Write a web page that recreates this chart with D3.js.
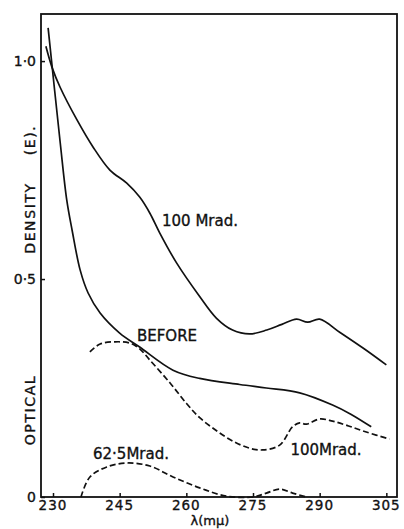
<!DOCTYPE html>
<html>
<head>
<meta charset="utf-8">
<script src="https://cdn.jsdelivr.net/npm/d3@7"></script>
<style>
  body { margin: 0; background: #fff; }
  svg { display: block; }
  text { font-family: "DejaVu Sans", sans-serif; fill: #111; stroke: #111; stroke-width: 0.35; }
</style>
</head>
<body>
<svg width="404" height="529"></svg>
<script>
// wavelengths (m\u03bc) and optical density (E)
var mrad100Lambda = [228.4, 229.8, 231.6, 235.4, 239, 242.8, 246.6, 249.5, 251.8, 254, 257.8, 263, 266.8, 270.4, 274.2, 278.1, 281.5, 284.8, 287.3, 290, 294.5, 300, 305];
var mrad100E      = [1.034, 0.985, 0.94, 0.865, 0.803, 0.75, 0.72, 0.688, 0.651, 0.606, 0.537, 0.46, 0.41, 0.383, 0.374, 0.383, 0.396, 0.408, 0.401, 0.408, 0.378, 0.34, 0.303];

var beforeLambda = [228.9, 231.6, 233.1, 234.3, 236.1, 237.9, 240.6, 245, 249.5, 257, 263, 272, 278, 285.5, 292.9, 297, 301.6];
var beforeE      = [1.076, 0.815, 0.681, 0.612, 0.521, 0.468, 0.422, 0.376, 0.344, 0.291, 0.272, 0.258, 0.25, 0.239, 0.211, 0.19, 0.161];

var dash100Lambda = [238.3, 240.6, 244, 247.3, 249.5, 251.8, 256.3, 260, 263, 266.8, 270.5, 274.2, 277.2, 281, 283.9, 285.5, 287, 290, 292.9, 296.5, 300.5, 305.7];
var dash100E      = [0.333, 0.351, 0.356, 0.353, 0.34, 0.314, 0.262, 0.215, 0.182, 0.152, 0.128, 0.112, 0.108, 0.119, 0.161, 0.17, 0.167, 0.179, 0.174, 0.163, 0.149, 0.133];

var dash62Lambda = [236.3, 238.3, 242.1, 246.6, 251.8, 257, 263, 269, 275, 278, 281, 283.9, 287];
var dash62E      = [0, 0.046, 0.069, 0.078, 0.071, 0.046, 0.021, 0.002, 0, 0.009, 0.018, 0.009, 0];

var xTicks = [230, 245, 260, 275, 290, 305];
var yTicks = [0, 0.5, 1.0];
var yTickLabels = ["0", "0\u00b75", "1\u00b70"];

var svg = d3.select("svg");

var x = d3.scaleLinear().domain([227.3, 307.4]).range([41, 397]);
var y = d3.scaleLinear().domain([0, 1.108]).range([497, 14]);

function pts(lx, ly) {
  return lx.map(function (l, i) { return [l, ly[i]]; });
}

var line = d3.line()
  .x(function (d) { return x(d[0]); })
  .y(function (d) { return y(d[1]); })
  .curve(d3.curveCatmullRom.alpha(0.5));

// frame
svg.append("rect")
  .attr("x", x.range()[0]).attr("y", y.range()[1])
  .attr("width", x.range()[1] - x.range()[0])
  .attr("height", y.range()[0] - y.range()[1])
  .attr("fill", "none").attr("stroke", "#111").attr("stroke-width", 1.8);

// x axis (ticks pointing inwards)
svg.append("g")
  .attr("transform", "translate(0," + y(0) + ")")
  .call(d3.axisTop(x).tickValues(xTicks).tickSize(4).tickFormat(""))
  .call(function (g) { g.select(".domain").remove(); })
  .call(function (g) { g.selectAll("line").attr("stroke", "#111").attr("stroke-width", 1.5); });

svg.append("g").selectAll("text")
  .data(xTicks).enter().append("text")
  .attr("x", function (d) { return x(d); })
  .attr("y", 510)
  .attr("text-anchor", "middle")
  .attr("font-size", 13.5)
  .attr("letter-spacing", 1)
  .text(function (d) { return d; });

// y axis
svg.append("g")
  .attr("transform", "translate(" + x.range()[0] + ",0)")
  .call(d3.axisRight(y).tickValues(yTicks).tickSize(4).tickFormat(""))
  .call(function (g) { g.select(".domain").remove(); })
  .call(function (g) { g.selectAll("line").attr("stroke", "#111").attr("stroke-width", 1.5); });

svg.append("g").selectAll("text")
  .data(yTicks).enter().append("text")
  .attr("x", 36)
  .attr("y", function (d) { return y(d) + 5; })
  .attr("text-anchor", "end")
  .attr("font-size", 14)
  .text(function (d, i) { return yTickLabels[i]; });

// axis titles
var yTitle = [["OPTICAL", 410], ["DENSITY", 218], ["(E).", 140]];
svg.append("g").selectAll("text")
  .data(yTitle).enter().append("text")
  .attr("transform", function (d) { return "translate(35," + d[1] + ") rotate(-90)"; })
  .attr("text-anchor", "middle")
  .attr("font-size", 14)
  .attr("letter-spacing", 1.6)
  .text(function (d) { return d[0]; });

svg.append("text")
  .attr("x", 210).attr("y", 525)
  .attr("text-anchor", "middle")
  .attr("font-size", 13)
  .text("\u03bb(m\u03bc)");

// curves
var curves = [
  { data: pts(mrad100Lambda, mrad100E), dash: null },
  { data: pts(beforeLambda, beforeE), dash: null },
  { data: pts(dash100Lambda, dash100E), dash: "6,3" },
  { data: pts(dash62Lambda, dash62E), dash: "6,3" }
];

svg.append("g").selectAll("path")
  .data(curves).enter().append("path")
  .attr("d", function (d) { return line(d.data); })
  .attr("fill", "none")
  .attr("stroke", "#111")
  .attr("stroke-width", 1.7)
  .attr("stroke-dasharray", function (d) { return d.dash; });

// curve labels
var labels = [["100 Mrad.", 200, 226], ["BEFORE", 167, 341], ["62\u00b75Mrad.", 131, 459], ["100Mrad.", 326, 455]];
svg.append("g").selectAll("text")
  .data(labels).enter().append("text")
  .attr("x", function (d) { return d[1]; })
  .attr("y", function (d) { return d[2]; })
  .attr("text-anchor", "middle")
  .attr("font-size", 15)
  .text(function (d) { return d[0]; });
</script>
</body>
</html>
